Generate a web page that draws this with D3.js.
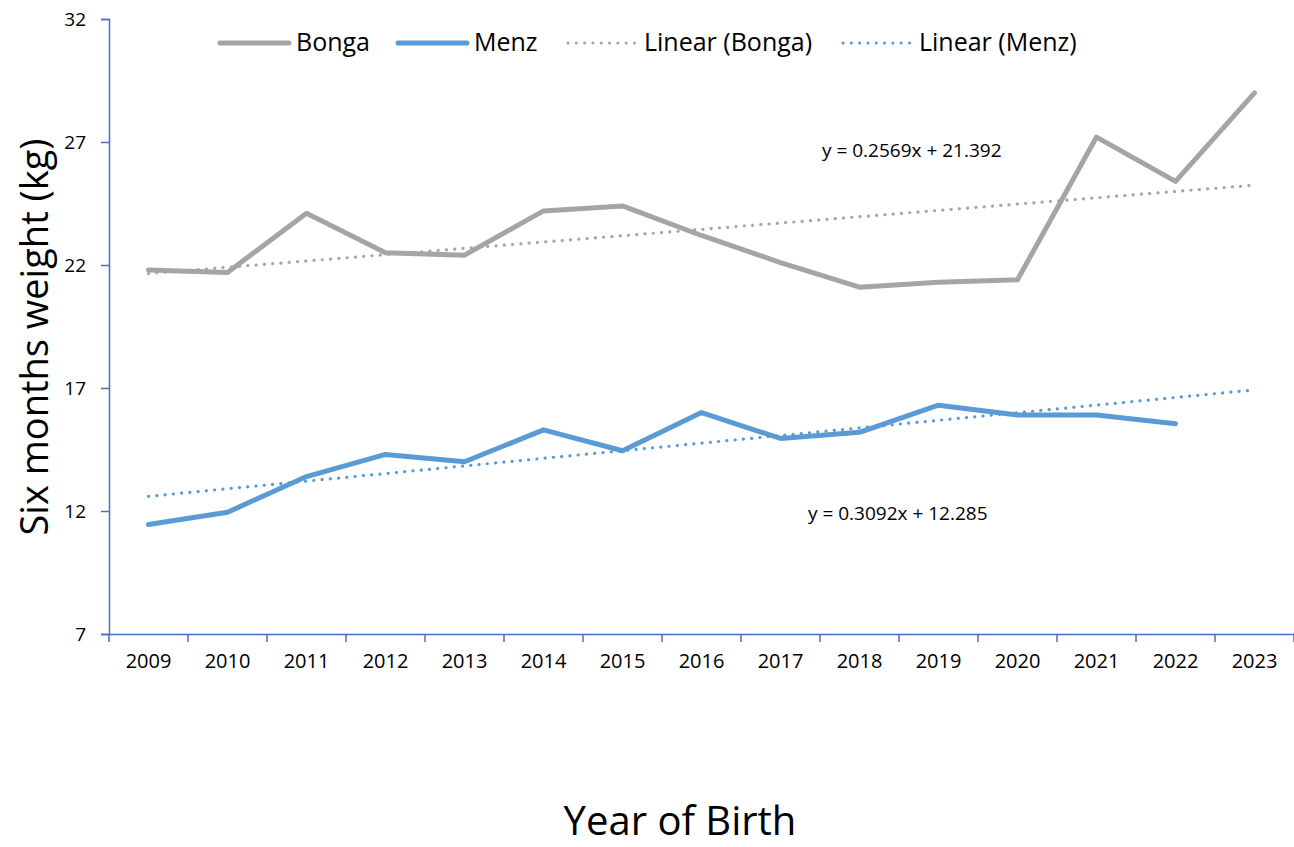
<!DOCTYPE html>
<html>
<head>
<meta charset="utf-8">
<script src="https://cdn.jsdelivr.net/npm/d3@7"></script>
<style>
  body { margin: 0; background: #fff; }
  text { font-family: "Open Sans", "Noto Sans", sans-serif; }
</style>
</head>
<body>
<svg id="chart"></svg>
<script>
// data
const years = ['2009','2010','2011','2012','2013','2014','2015','2016','2017','2018','2019','2020','2021','2022','2023'];
const bonga = [21.8, 21.7, 24.1, 22.5, 22.4, 24.2, 24.4, 23.2, 22.1, 21.1, 21.3, 21.4, 27.2, 25.4, 29.0];
const menz = [11.45, 11.95, 13.4, 14.3, 14.0, 15.3, 14.45, 16.0, 14.95, 15.2, 16.3, 15.9, 15.9, 15.55, null];
const yTicks = [7, 12, 17, 22, 27, 32];
// trend line coefficients shown on the chart (x = 1..15)
const bongaFit = {slope: 0.2569, intercept: 21.392, label: 'y = 0.2569x + 21.392'};
const menzFit = {slope: 0.3092, intercept: 12.285, label: 'y = 0.3092x + 12.285'};

const width = 1294;
const height = 847;
const margin = {top: 19, left: 109, right: 0, bottom: 213};
const axisColor = '#4472C4';
const grey = '#A5A5A5';
const blue = '#5B9BD5';
const font = '"Open Sans", sans-serif';

const svg = d3.select('#chart').attr('width', width).attr('height', height);

const x = d3.scaleBand().domain(years).range([margin.left, width - margin.right]);
const y = d3.scaleLinear().domain([7, 32]).range([height - margin.bottom, margin.top]);
const cx = d => x(d) + x.bandwidth() / 2;

// y axis
const yAxis = svg.append('g')
  .attr('transform', `translate(${margin.left},0)`)
  .call(d3.axisLeft(y).tickValues(yTicks).tickSize(8).tickPadding(15));
yAxis.select('.domain').attr('stroke', axisColor).attr('stroke-width', 1.5);
yAxis.selectAll('.tick line').attr('stroke', axisColor).attr('stroke-width', 1.5);
yAxis.selectAll('.tick text')
  .attr('x', -23)
  .attr('dy', '0.35em')
  .attr('text-anchor', 'end')
  .style('font-size', '19px')
  .style('font-family', font)
  .attr('fill', '#000');

// x axis: labels centred, ticks on band edges
const yBase = y(7);
const xAxis = svg.append('g')
  .attr('transform', `translate(0,${yBase})`)
  .call(d3.axisBottom(x).tickSize(0).tickPadding(20));
xAxis.select('.domain').attr('stroke', axisColor).attr('stroke-width', 1.5);
xAxis.selectAll('.tick text')
  .style('font-size', '20px')
  .style('font-family', font)
  .attr('fill', '#000');
svg.append('g').selectAll('line')
  .data(years.concat(['end']))
  .enter().append('line')
    .attr('x1', (d, i) => margin.left + i * x.step())
    .attr('x2', (d, i) => margin.left + i * x.step())
    .attr('y1', yBase)
    .attr('y2', yBase + 8)
    .attr('stroke', axisColor)
    .attr('stroke-width', 1.5);

// trend lines
function trend(fit) {
  return years.map((yr, i) => ({year: yr, v: fit.slope * (i + 1) + fit.intercept}));
}
const trendLine = d3.line().x(d => cx(d.year)).y(d => y(d.v));
[[bongaFit, grey], [menzFit, blue]].forEach(([fit, col]) => {
  svg.append('path')
    .attr('d', trendLine(trend(fit)))
    .attr('fill', 'none')
    .attr('stroke', col)
    .attr('stroke-width', 3.2)
    .attr('stroke-linecap', 'round')
    .attr('stroke-dasharray', '0.1 8.2');
});

// data lines
const line = d3.line()
  .defined(d => d.v != null)
  .x(d => cx(d.year))
  .y(d => y(d.v));
[[bonga, grey], [menz, blue]].forEach(([vals, col]) => {
  svg.append('path')
    .attr('d', line(years.map((yr, i) => ({year: yr, v: vals[i]}))))
    .attr('fill', 'none')
    .attr('stroke', col)
    .attr('stroke-width', 5)
    .attr('stroke-linejoin', 'round')
    .attr('stroke-linecap', 'round');
});

// equations
svg.append('text').attr('x', 822).attr('y', 157).attr('font-size', 19).text(bongaFit.label);
svg.append('text').attr('x', 808).attr('y', 520).attr('font-size', 19).text(menzFit.label);

// legend
const legendItems = [
  {name: 'Bonga', col: grey, dotted: false, x: 220},
  {name: 'Menz', col: blue, dotted: false, x: 398},
  {name: 'Linear (Bonga)', col: grey, dotted: true, x: 568},
  {name: 'Linear (Menz)', col: blue, dotted: true, x: 843}
];
const legend = svg.append('g').attr('transform', 'translate(0,43)');
legendItems.forEach(it => {
  legend.append('line')
    .attr('x1', it.x).attr('x2', it.x + 69)
    .attr('y1', 0).attr('y2', 0)
    .attr('stroke', it.col)
    .attr('stroke-width', it.dotted ? 3 : 5)
    .attr('stroke-linecap', 'round')
    .attr('stroke-dasharray', it.dotted ? '0.1 8.2' : null);
  legend.append('text')
    .attr('x', it.x + 76).attr('y', 8)
    .attr('font-size', 25)
    .text(it.name);
});

// axis titles
svg.append('text')
  .attr('transform', `translate(48,337) rotate(-90)`)
  .attr('text-anchor', 'middle')
  .attr('font-size', 38)
  .text('Six months weight (kg)');
svg.append('text')
  .attr('x', 680).attr('y', 835)
  .attr('text-anchor', 'middle')
  .attr('font-size', 40)
  .text('Year of Birth');
</script>
</body>
</html>
